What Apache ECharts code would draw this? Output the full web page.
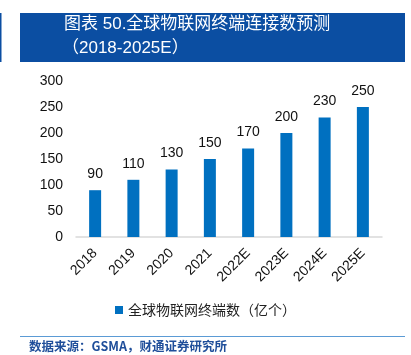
<!DOCTYPE html>
<html><head><meta charset="utf-8">
<script src="https://cdn.jsdelivr.net/npm/echarts@6/dist/echarts.min.js"></script>
<style>html,body{margin:0;padding:0;background:#fff;}#c{width:411px;height:355px;}</style>
</head><body><div id="c"></div>
<script>
const categories = ['2018','2019','2020','2021','2022E','2023E','2024E','2025E'];
const values = [90,110,130,150,170,200,230,250];
const yTicks = [0,50,100,150,200,250,300];
const seriesName = '全球物联网终端数（亿个）';
const titleLine1 = '图表 50.全球物联网终端连接数预测';
const titleLine2 = '（2018-2025E）';
const sourceText = '数据来源：GSMA，财通证券研究所';

const chart = echarts.init(document.getElementById('c'));
chart.setOption({
  animation: false,
  textStyle: {fontFamily: 'Liberation Sans, Arial, sans-serif'},
  grid: {left: 76, right: 29, top: 81, bottom: 118, containLabel: false},
  legend: {
    data: [seriesName], bottom: 33, left: 'center',
    itemWidth: 8, itemHeight: 8, icon: 'rect', itemGap: 5,
    textStyle: {fontFamily: 'Noto Sans CJK SC', fontSize: 14, color: '#222'}
  },
  xAxis: {
    type: 'category', data: categories,
    axisLine: {lineStyle: {color: '#d9d9d9', width: 1.5}},
    axisTick: {show: false},
    axisLabel: {rotate: 45, color: '#111', fontSize: 14, margin: 14, interval: 0}
  },
  yAxis: {
    type: 'value', min: yTicks[0], max: yTicks[yTicks.length-1], interval: 50,
    splitLine: {show: false}, axisLine: {show: false}, axisTick: {show: false},
    axisLabel: {color: '#111', fontSize: 14, margin: 13}
  },
  series: [{
    name: seriesName, type: 'bar', data: values, barWidth: 12,
    itemStyle: {color: '#0070C0'},
    label: {show: true, position: 'top', distance: 9, color: '#111', fontSize: 14}
  }],
  graphic: [
    {type: 'rect', shape: {x: 20, y: 13, width: 385, height: 49}, style: {fill: '#0B4EA2'}},
    {type: 'rect', shape: {x: 0, y: 13, width: 1.5, height: 49}, style: {fill: '#0B4EA2'}},
    {type: 'text', left: 64, top: 16, style: {text: titleLine1, fill: '#fff', font: '17px "Liberation Sans", "Noto Sans CJK SC"'}},
    {type: 'text', left: 62, top: 40, style: {text: titleLine2, fill: '#fff', font: '17px "Liberation Sans", "Noto Sans CJK SC"'}},
    {type: 'rect', shape: {x: 20, y: 336, width: 385, height: 1}, style: {fill: '#5B9BD5'}},
    {type: 'text', left: 29, top: 340, style: {text: sourceText, fill: '#1F4E9A', font: 'bold 12.5px "Noto Sans CJK SC"'}}
  ]
});
</script></body></html>
